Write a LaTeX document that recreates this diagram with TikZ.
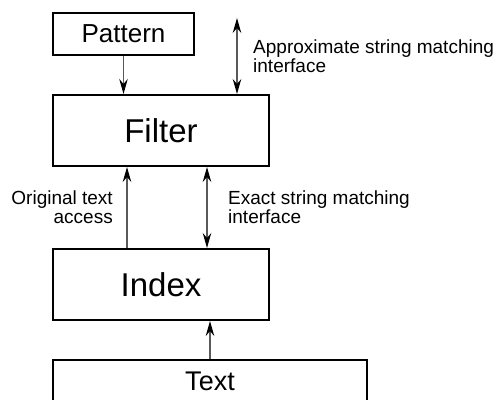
\documentclass[tikz,border=0pt]{standalone}
\usepackage{fontspec}
\setmainfont{Liberation Sans}
\usetikzlibrary{arrows.meta}
\tikzset{
  box/.style={draw=black, line width=2bp, rectangle, inner sep=0pt},
  tipk/.tip={Stealth[length=15bp,width=8.5bp,inset=5bp,color=black]},
  arr/.style={draw=gray!70!black, line width=1.1bp, -tipk},
  arrboth/.style={draw=gray!70!black, line width=1.1bp, tipk-tipk},
  lbl/.style={inner sep=0pt, font=\fontsize{19bp}{19bp}\selectfont}
}
\begin{document}
\begin{tikzpicture}[x=1bp,y=-1bp]
\useasboundingbox (0,0) rectangle (502,399);
\clip (0,0) rectangle (502,399);
\node[box, minimum width=141bp, minimum height=42bp, font=\fontsize{26bp}{26bp}\selectfont] (pattern) at (123.5,34) {Pattern};
\node[box, minimum width=216bp, minimum height=71bp, font=\fontsize{33bp}{33bp}\selectfont] (filter) at (161,130.5) {Filter};
\node[box, minimum width=216bp, minimum height=71bp, font=\fontsize{33bp}{33bp}\selectfont] (index) at (161,284.5) {Index};
\node[box, minimum width=314bp, minimum height=42bp, font=\fontsize{27bp}{27bp}\selectfont] (text) at (210,381) {Text};
\coordinate (apxtop) at (237,18);
\draw[arr] (pattern.south) -- (pattern.south |- filter.north);
\draw[arrboth] (apxtop) -- (apxtop |- filter.north);
\draw[arr] ([xshift=-34bp]index.north) -- ([xshift=-34bp]filter.south);
\draw[arrboth] ([xshift=46bp]filter.south) -- ([xshift=46bp]index.north);
\draw[arr] (text.north) -- (text.north |- index.south);
\node[lbl, anchor=north west, align=left] (apxlbl) at (253,40) {Approximate string matching\\interface};
\node[lbl, anchor=north west, align=left] (exlbl) at (228,191) {Exact string matching\\interface};
\node[lbl, anchor=north east, align=right] (origlbl) at (113,191) {Original text\\access};
\end{tikzpicture}
\end{document}
